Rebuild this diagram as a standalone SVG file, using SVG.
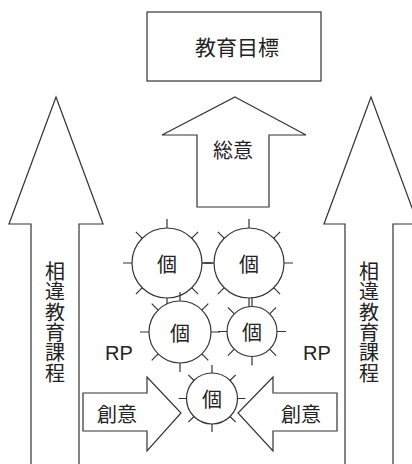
<svg xmlns="http://www.w3.org/2000/svg" width="412" height="464" viewBox="0 0 412 464">
<style>
.s{fill:#fff;stroke:#333;stroke-width:1.2}
.c{fill:#fff;stroke:#333;stroke-width:1.2}
.t{stroke:#333;stroke-width:1.2;fill:none}
.j{font-family:"Noto Sans CJK JP","Noto Sans CJK SC",sans-serif;fill:#222;text-anchor:middle;dominant-baseline:central}
.v{font-family:"Noto Sans CJK JP","Noto Sans CJK SC",sans-serif;fill:#222;text-anchor:middle;writing-mode:vertical-rl;font-size:20px;letter-spacing:0.3px}
.r{font-family:"Liberation Sans",Arial,sans-serif;fill:#222;text-anchor:middle;dominant-baseline:central;font-size:20px}
</style>
<rect width="412" height="464" fill="#fff"/>
<g id="goal">
<rect class="s" x="147" y="12" width="174" height="69"/>
<text class="j" x="237" y="46" font-size="21">教育目標</text>
</g>
<g id="soui-arrow">
<polygon class="s" points="235,97 306,135 269,135 269,207 197,207 197,135 162,135"/>
<text class="j" x="233" y="149" font-size="20">総意</text>
</g>
<g id="left-curriculum">
<polygon class="s" points="56,97 103,224 79,224 79,465 31,465 31,224 9,224"/>
<text class="v" x="55" y="322.5">相違教育課程</text>
</g>
<g id="right-curriculum">
<polygon class="s" points="371,97 418,224 393,224 393,465 345,465 345,224 324,224"/>
<text class="v" x="369" y="322.5">相違教育課程</text>
</g>
<g id="connectors">
<line class="t" x1="202" y1="263" x2="213" y2="263"/>
</g>
<g id="ko1">
<path class="t" d="M167,228v-9M167,298v9M132,263h-9M202,263h9M142.3,238.3l-6.4,-6.4M191.7,238.3l6.4,-6.4M142.3,287.7l-6.4,6.4M191.7,287.7l6.4,6.4"/>
<circle class="c" cx="167" cy="263" r="35"/>
<text class="j" x="167" y="263" font-size="20">個</text>
</g>
<g id="ko2">
<path class="t" d="M249,228v-9M249,298v9M214,263h-9M284,263h9M224.3,238.3l-6.4,-6.4M273.7,238.3l6.4,-6.4M224.3,287.7l-6.4,6.4M273.7,287.7l6.4,6.4"/>
<circle class="c" cx="249" cy="263" r="35"/>
<text class="j" x="249" y="263" font-size="20">個</text>
</g>
<g id="ko3">
<path class="t" d="M180,301v-9M180,363v9M149,332h-9M211,332h9M158.1,310.1l-6.4,-6.4M201.9,310.1l6.4,-6.4M158.1,353.9l-6.4,6.4M201.9,353.9l6.4,6.4"/>
<circle class="c" cx="180" cy="332" r="31"/>
<text class="j" x="180" y="332" font-size="20">個</text>
</g>
<g id="ko4">
<path class="t" d="M252,306.5v-9M252,356.5v9M227,331.5h-9M277,331.5h9M234.3,313.8l-6.4,-6.4M269.7,313.8l6.4,-6.4M234.3,349.2l-6.4,6.4M269.7,349.2l6.4,6.4"/>
<circle class="c" cx="252" cy="331.5" r="25"/>
<text class="j" x="252" y="331.5" font-size="20">個</text>
</g>
<g id="ko5">
<path class="t" d="M212,373v-8M212,424v8M186.5,398.5h-8M237.5,398.5h8M194,380.5l-5.7,-5.7M230,380.5l5.7,-5.7M194,416.5l-5.7,5.7M230,416.5l5.7,5.7"/>
<circle class="c" cx="212" cy="398.5" r="25.5"/>
<text class="j" x="212" y="398.5" font-size="20">個</text>
</g>
<g id="soui-left">
<polygon class="s" points="83,393 147,393 147,377 181,413 147,451 147,431 83,431"/>
<text class="j" x="117" y="413" font-size="20">創意</text>
</g>
<g id="soui-right">
<polygon class="s" points="337,393 273,393 273,377 238,413 273,451 273,431 337,431"/>
<text class="j" x="301" y="413" font-size="20">創意</text>
</g>
<g id="rp-left"><text class="r" x="119" y="353">RP</text></g>
<g id="rp-right"><text class="r" x="317" y="353">RP</text></g>
</svg>
